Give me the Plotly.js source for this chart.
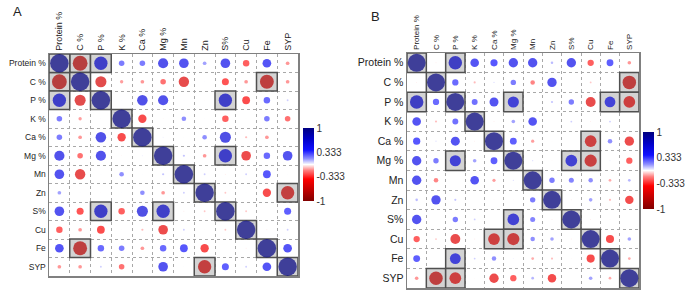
<!DOCTYPE html>
<html><head><meta charset="utf-8">
<script src="https://cdn.plot.ly/plotly-3.0.1.min.js"></script>
<style>html,body{margin:0;padding:0;background:#fff;}#chart{width:685px;height:293px;}</style>
</head><body><div id="chart"></div>
<script>
const labels = ['Protein %','C %','P %','K %','Ca %','Mg %','Mn','Zn','S%','Cu','Fe','SYP'];

// Panel A correlation rows
const A_Protein = [1, -0.80, 0.72, 0.30, 0.30, 0.55, 0.52, 0.20, 0.52, -0.35, 0.47, -0.20];
const A_C       = [-0.80, 1, -0.60, -0.18, -0.20, -0.30, -0.56, 0.02, -0.38, -0.20, -0.75, -0.20];
const A_P       = [0.72, -0.60, 1, 0.03, 0.57, 0.55, 0.02, -0.03, 0.72, -0.42, 0.35, 0.10];
const A_K       = [0.30, -0.18, 0.03, 1, -0.45, -0.04, 0.25, 0.02, -0.35, -0.02, 0.30, -0.30];
const A_Ca      = [0.30, -0.20, 0.57, -0.45, 1, 0.05, 0.03, 0.25, 0.60, -0.12, -0.20, 0.00];
const A_Mg      = [0.55, -0.30, 0.55, -0.04, 0.05, 1, 0.12, -0.20, 0.72, -0.52, 0.35, 0.52];
const A_Mn      = [0.52, -0.56, 0.02, 0.25, 0.03, 0.12, 1, 0.10, -0.05, 0.10, 0.42, 0.03];
const A_Zn      = [0.20, 0.02, -0.03, 0.02, 0.25, -0.20, 0.10, 1, -0.10, -0.02, -0.45, -0.72];
const A_S       = [0.52, -0.38, 0.72, -0.35, 0.60, 0.72, -0.05, -0.10, 1, -0.10, 0.00, 0.38];
const A_Cu      = [-0.35, -0.20, -0.42, -0.02, -0.12, -0.52, 0.10, -0.02, -0.10, 1, -0.05, 0.10];
const A_Fe      = [0.47, -0.75, 0.35, 0.30, -0.20, 0.35, 0.42, -0.45, 0.00, -0.05, 1, 0.47];
const A_SYP     = [-0.20, -0.20, 0.10, -0.30, 0.00, 0.52, 0.03, -0.72, 0.38, 0.10, 0.47, 1];

// Panel B correlation rows
const B_Protein = [1, -0.05, 0.75, 0.48, 0.40, 0.52, 0.52, 0.14, 0.52, -0.35, 0.38, -0.20];
const B_C       = [-0.05, 1, 0.35, -0.12, 0.07, 0.30, -0.25, 0.52, 0.00, -0.10, 0.00, -0.75];
const B_P       = [0.75, 0.35, 1, 0.33, 0.50, 0.62, 0.00, 0.12, 0.30, -0.55, 0.60, -0.65];
const B_K       = [0.48, -0.12, 0.33, 1, -0.05, 0.20, 0.48, 0.00, 0.10, -0.05, 0.10, -0.03];
const B_Ca      = [0.40, 0.07, 0.50, -0.05, 1, 0.38, -0.18, -0.03, 0.00, -0.65, 0.25, -0.52];
const B_Mg      = [0.52, 0.30, 0.62, 0.20, 0.38, 1, 0.07, -0.03, 0.65, -0.68, 0.05, -0.35];
const B_Mn      = [0.52, -0.25, 0.00, 0.48, -0.18, 0.07, 1, 0.30, 0.28, 0.25, -0.15, 0.15];
const B_Zn      = [0.14, 0.52, 0.12, 0.00, -0.03, -0.03, 0.30, 1, -0.05, 0.20, -0.12, -0.47];
const B_S       = [0.52, 0.00, 0.30, 0.10, 0.00, 0.65, 0.28, -0.05, 1, -0.05, -0.03, 0.00];
const B_Cu      = [-0.35, -0.10, -0.55, -0.05, -0.65, -0.68, 0.25, 0.20, -0.05, 1, -0.45, 0.20];
const B_Fe      = [0.38, 0.00, 0.60, 0.10, 0.25, 0.05, -0.15, -0.12, -0.03, -0.45, 1, -0.15];
const B_SYP     = [-0.20, -0.75, -0.65, -0.03, -0.52, -0.35, 0.15, -0.47, 0.00, 0.20, -0.15, 1];

// significant (boxed) off-diagonal pairs [row, col]
const sigA = [[0,1],[0,2],[1,10],[2,8],[5,8],[7,11]];
const sigB = [[0,2],[1,11],[2,5],[2,10],[2,11],[4,9],[5,8],[5,9]];

const cbTickVals = [1, 0.333, -0.333, -1];
const cbTickText = ['1', '0.333', '-0.333', '-1'];

const matA = [A_Protein, A_C, A_P, A_K, A_Ca, A_Mg, A_Mn, A_Zn, A_S, A_Cu, A_Fe, A_SYP];
const matB = [B_Protein, B_C, B_P, B_K, B_Ca, B_Mg, B_Mn, B_Zn, B_S, B_Cu, B_Fe, B_SYP];

const colorscale = [
  [0, '#800000'], [0.15, '#c00000'], [0.3, '#ff0000'], [0.42, '#ff8080'],
  [0.5, '#ffffff'], [0.58, '#9090ff'], [0.7, '#1010ff'], [0.85, '#0000c8'], [1, '#000080']
];

function flatten(mat) {
  const x = [], y = [], v = [];
  mat.forEach((row, i) => row.forEach((val, j) => { x.push(j); y.push(i); v.push(val); }));
  return {x, y, v};
}

function makeTrace(mat, xa, ya, diam, cb) {
  const f = flatten(mat);
  return {
    type: 'scatter', mode: 'markers', xaxis: xa, yaxis: ya,
    x: f.x, y: f.y, hoverinfo: 'skip',
    marker: {
      size: f.v.map(Math.abs), sizemode: 'diameter', sizeref: 1 / diam,
      color: f.v, cmin: -1, cmax: 1, colorscale: colorscale,
      line: {width: 0}, showscale: true,
      colorbar: Object.assign({
        tickmode: 'array', tickvals: cbTickVals, ticktext: cbTickText,
        thickness: 11, thicknessmode: 'pixels', lenmode: 'fraction',
        xanchor: 'left', yanchor: 'middle', xpad: 0, ypad: 0,
        outlinewidth: 0, ticks: '', tickfont: {family: 'Liberation Sans, Arial', size: 10, color: '#333'}
      }, cb)
    }
  };
}

function boxes(sig, xref, yref) {
  const pairs = [];
  sig.forEach(p => { pairs.push(p); pairs.push([p[1], p[0]]); });
  for (let k = 0; k < labels.length; k++) pairs.push([k, k]);
  return pairs.map(p => ({
    type: 'rect', xref: xref, yref: yref, layer: 'between',
    x0: p[1] - 0.5, x1: p[1] + 0.5, y0: p[0] - 0.5, y1: p[0] + 0.5,
    fillcolor: '#d3d3d3', line: {color: '#505050', width: 1.5}
  }));
}

const idx = labels.map((_, i) => i);
const half = labels.slice(1).map((_, i) => i + 0.5);

function axis(domain, side, fontSize, isY) {
  return {
    domain: domain, range: isY ? [labels.length - 0.5, -0.5] : [-0.5, labels.length - 0.5],
    side: side, tickmode: 'array', tickvals: idx, ticktext: labels,
    tickangle: isY ? 0 : -90, ticks: '', showgrid: false, zeroline: false,
    showline: true, mirror: true, linecolor: '#808080', linewidth: 1.5,
    tickfont: {family: 'Liberation Sans, Arial', size: fontSize, color: '#222'},
    minor: {tickmode: 'array', tickvals: half, showgrid: true, gridcolor: '#a8a8a8', gridwidth: 1, griddash: 'dot', ticks: ''},
    fixedrange: true
  };
}

const data = [
  makeTrace(matA, 'x', 'y', 18.5, {x: 303/685, y: 1 - 164.5/293, len: 73/293}),
  makeTrace(matB, 'x2', 'y2', 18, {x: 643/685, y: 1 - 170.5/293, len: 77/293})
];

const layout = {
  width: 685, height: 293, margin: {l: 0, r: 0, t: 0, b: 0},
  paper_bgcolor: '#fff', plot_bgcolor: '#fff', showlegend: false,
  xaxis: axis([49/685, 298/685], 'top', 9, false),
  yaxis: axis([1 - 276/293, 1 - 54/293], 'left', 8.5, true),
  xaxis2: axis([407/685, 639/685], 'top', 8, false),
  yaxis2: axis([1 - 288/293, 1 - 53/293], 'left', 10.5, true),
  shapes: boxes(sigA, 'x', 'y').concat(boxes(sigB, 'x2', 'y2')),
  annotations: [
    {text: 'A', xref: 'paper', yref: 'paper', x: 17/685, y: 1 - 12/293, showarrow: false, xanchor: 'center', yanchor: 'middle', font: {family: 'Liberation Sans, Arial', size: 13, color: '#222'}},
    {text: 'B', xref: 'paper', yref: 'paper', x: 375/685, y: 1 - 17/293, showarrow: false, xanchor: 'center', yanchor: 'middle', font: {family: 'Liberation Sans, Arial', size: 13, color: '#222'}}
  ]
};
layout.yaxis.anchor = 'x'; layout.xaxis.anchor = 'y';
layout.xaxis2.anchor = 'y2'; layout.yaxis2.anchor = 'x2';

Plotly.newPlot('chart', data, layout, {displayModeBar: false, staticPlot: true});
</script>
</body></html>
